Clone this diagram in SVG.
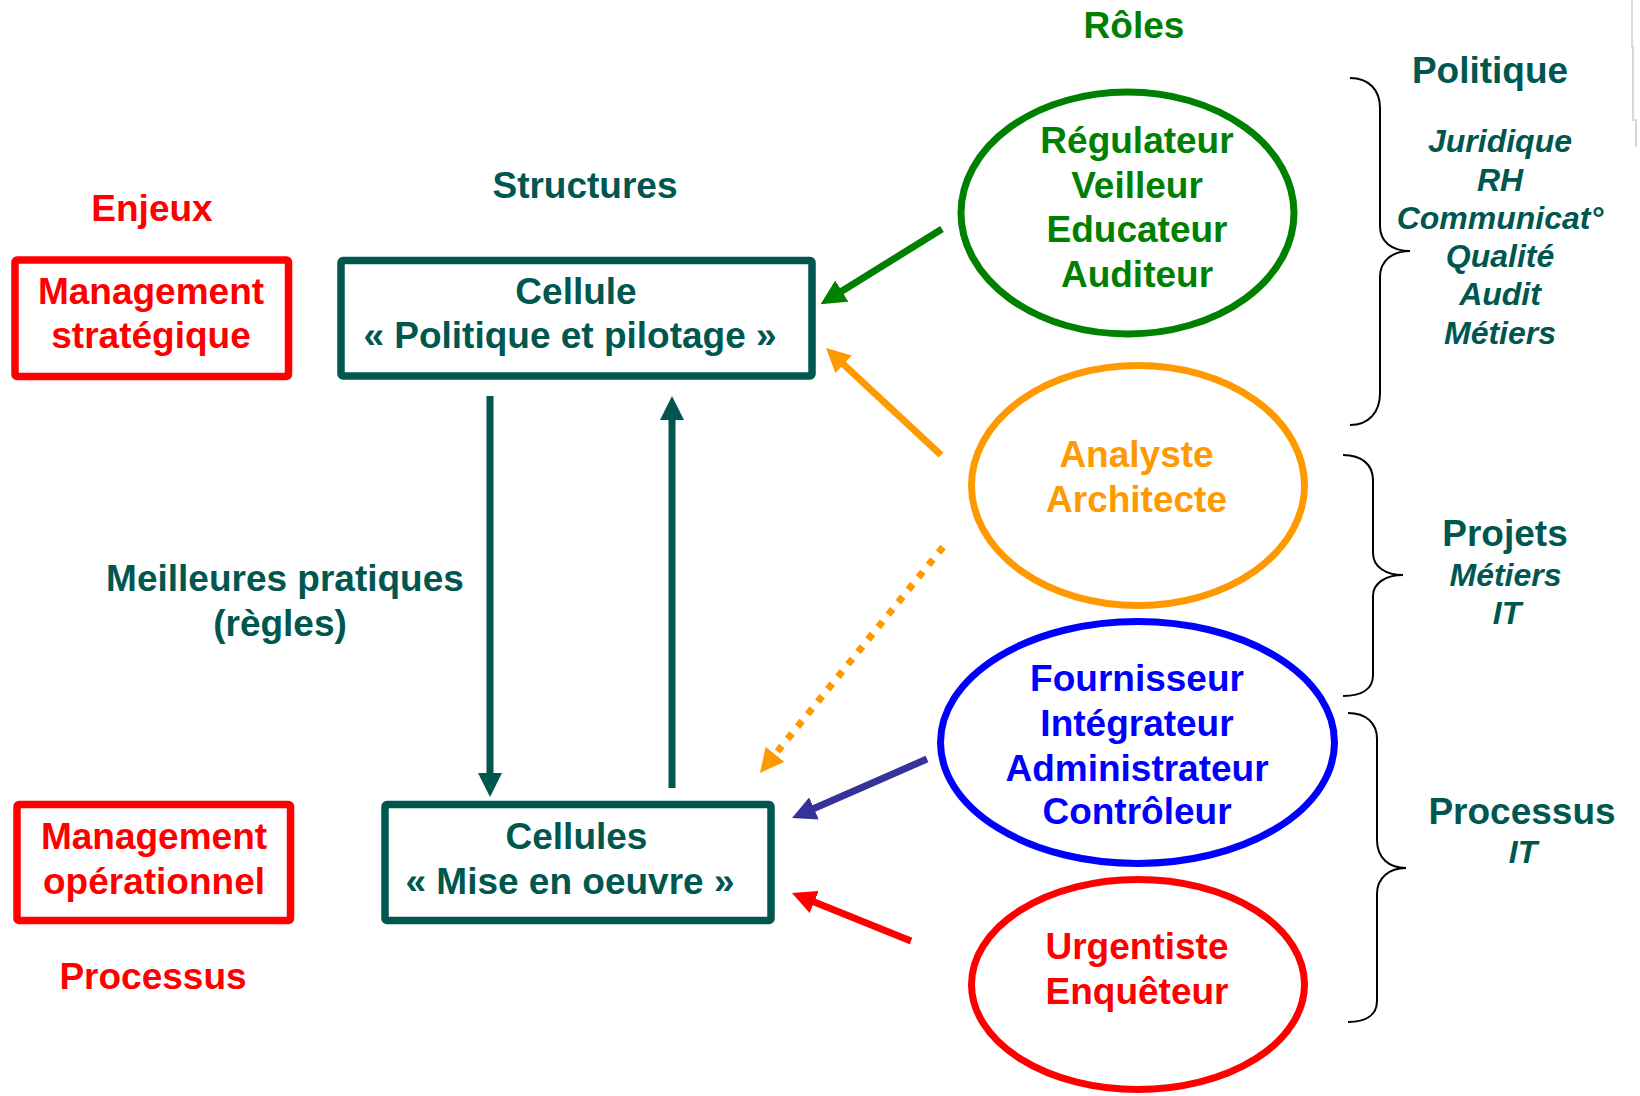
<svg xmlns="http://www.w3.org/2000/svg" width="1640" height="1096" viewBox="0 0 1640 1096">
<defs>
<style>
text{font-family:"Liberation Sans",Arial,Helvetica,sans-serif;font-weight:bold;text-anchor:middle}
.t{font-size:37px}
.i{font-size:32px;font-style:italic;fill:#00574F}
.teal{fill:#00574F}
.red{fill:#FF0000}
.grn{fill:#008000}
.org{fill:#FF9900}
.blu{fill:#0000FF}
.box{fill:#FFFFFF;stroke-width:7.5;stroke-linejoin:round}
.ell{fill:#FFFFFF;stroke-width:7}
.brace{fill:none;stroke:#000000;stroke-width:2}
.arr{fill:none;stroke-width:7}
</style>
<marker id="mTeal" markerUnits="userSpaceOnUse" viewBox="0 0 24 24" refX="12" refY="12" markerWidth="24" markerHeight="24" orient="auto"><path d="M0,0 L24,12 L0,24 Z" fill="#00574F"/></marker>
<marker id="mGrn" markerUnits="userSpaceOnUse" viewBox="0 0 24 24" refX="12" refY="12" markerWidth="25" markerHeight="25" orient="auto"><path d="M0,0 L24,12 L0,24 Z" fill="#008000"/></marker>
<marker id="mOrg" markerUnits="userSpaceOnUse" viewBox="0 0 24 24" refX="12" refY="12" markerWidth="24" markerHeight="24" orient="auto"><path d="M0,0 L24,12 L0,24 Z" fill="#FF9900"/></marker>
<marker id="mBlu" markerUnits="userSpaceOnUse" viewBox="0 0 24 24" refX="12" refY="12" markerWidth="24" markerHeight="24" orient="auto"><path d="M0,0 L24,12 L0,24 Z" fill="#333399"/></marker>
<marker id="mRed" markerUnits="userSpaceOnUse" viewBox="0 0 24 24" refX="12" refY="12" markerWidth="24" markerHeight="24" orient="auto"><path d="M0,0 L24,12 L0,24 Z" fill="#FF0000"/></marker>
</defs>
<rect x="0" y="0" width="1640" height="1096" fill="#FFFFFF"/>
<path d="M1632,0 L1632,47 L1633,47 L1633,120 L1636,120 L1636,147" fill="none" stroke="#D8D8D8" stroke-width="2"/>

<g id="headers">
<text class="t red" x="152" y="221">Enjeux</text>
<text class="t teal" x="585" y="198">Structures</text>
<text class="t grn" x="1134" y="38">Rôles</text>
</g>

<g id="mgmt-strategique">
<rect class="box" x="15" y="260" width="273.5" height="116.5" rx="2" stroke="#FF0000"/>
<text class="t red" x="151" y="304">Management</text>
<text class="t red" x="151" y="348">stratégique</text>
</g>

<g id="cellule-politique">
<rect class="box" x="341" y="260.5" width="471" height="115.5" rx="2" stroke="#00574F"/>
<text class="t teal" x="576" y="304">Cellule</text>
<text class="t teal" x="570" y="348">« Politique et pilotage »</text>
</g>

<g id="mgmt-operationnel">
<rect class="box" x="17" y="804.5" width="273.5" height="116" rx="2" stroke="#FF0000"/>
<text class="t red" x="154" y="849">Management</text>
<text class="t red" x="154" y="894">opérationnel</text>
<text class="t red" x="153" y="989">Processus</text>
</g>

<g id="cellules-mise-en-oeuvre">
<rect class="box" x="385" y="804.5" width="386" height="116" rx="2" stroke="#00574F"/>
<text class="t teal" x="576.5" y="849">Cellules</text>
<text class="t teal" x="570" y="894">« Mise en oeuvre »</text>
</g>

<g id="meilleures-pratiques">
<text class="t teal" x="285" y="591">Meilleures pratiques</text>
<text class="t teal" x="280" y="636">(règles)</text>
</g>

<g id="role-politique">
<ellipse class="ell" cx="1127.5" cy="213" rx="166.5" ry="121" stroke="#008000"/>
<text class="t grn" x="1137" y="153">Régulateur</text>
<text class="t grn" x="1137" y="197.5">Veilleur</text>
<text class="t grn" x="1137" y="242">Educateur</text>
<text class="t grn" x="1137" y="286.5">Auditeur</text>
</g>

<g id="role-projets">
<ellipse class="ell" cx="1138" cy="485.5" rx="166.5" ry="120" stroke="#FF9900"/>
<text class="t org" x="1136.5" y="467">Analyste</text>
<text class="t org" x="1136.5" y="511.5">Architecte</text>
</g>

<g id="role-fourniture">
<ellipse class="ell" cx="1137.5" cy="742.5" rx="197" ry="121" stroke="#0000FF"/>
<text class="t blu" x="1137" y="691">Fournisseur</text>
<text class="t blu" x="1137" y="736">Intégrateur</text>
<text class="t blu" x="1137" y="781">Administrateur</text>
<text class="t blu" x="1137" y="824">Contrôleur</text>
</g>

<g id="role-urgence">
<ellipse class="ell" cx="1138" cy="984.5" rx="166.5" ry="105" stroke="#FF0000"/>
<text class="t red" x="1137" y="959">Urgentiste</text>
<text class="t red" x="1137" y="1004">Enquêteur</text>
</g>

<g id="domaine-politique">
<path class="brace" d="M1350,78 C1369,78 1380,90 1380,108 L1380,226 C1380,242 1392,251 1410,251 C1392,251 1380,261 1380,277 L1380,393 C1380,412 1369,425 1350,425"/>
<text class="t teal" x="1490" y="83">Politique</text>
<text class="i" x="1500" y="152">Juridique</text>
<text class="i" x="1500" y="190.5">RH</text>
<text class="i" x="1500" y="229">Communicat°</text>
<text class="i" x="1500" y="267">Qualité</text>
<text class="i" x="1500" y="305">Audit</text>
<text class="i" x="1500" y="343.5">Métiers</text>
</g>

<g id="domaine-projets">
<path class="brace" d="M1343,455 C1362,455 1373,465 1373,480 L1373,553 C1373,567 1386,575 1403,575 C1386,575 1373,583 1373,596 L1373,675 C1373,689 1362,696 1343,696"/>
<text class="t teal" x="1505" y="546">Projets</text>
<text class="i" x="1505.5" y="585.5">Métiers</text>
<text class="i" x="1507" y="623.5">IT</text>
</g>

<g id="domaine-processus">
<path class="brace" d="M1348,713 C1366,713 1377,723 1377,739 L1377,840 C1377,858 1389,868 1406,868 C1389,868 1377,878 1377,894 L1377,1001 C1377,1015 1366,1022 1348,1022"/>
<text class="t teal" x="1522" y="824">Processus</text>
<text class="i" x="1523" y="863">IT</text>
</g>

<g id="connectors">
<line class="arr" x1="490" y1="396" x2="490" y2="785" stroke="#00574F" stroke-width="7.5" marker-end="url(#mTeal)"/>
<line class="arr" x1="672" y1="788" x2="672" y2="408" stroke="#00574F" stroke-width="8" marker-end="url(#mTeal)"/>
<line class="arr" x1="942" y1="229" x2="831.2" y2="297.7" stroke="#008000" marker-end="url(#mGrn)"/>
<line class="arr" x1="941" y1="455" x2="834.8" y2="356.2" stroke="#FF9900" marker-end="url(#mOrg)"/>
<line class="arr" x1="943" y1="547" x2="767.5" y2="763.7" stroke="#FF9900" stroke-dasharray="7 9" marker-end="url(#mOrg)"/>
<line class="arr" x1="927" y1="759" x2="803" y2="813.2" stroke="#333399" marker-end="url(#mBlu)"/>
<line class="arr" x1="911" y1="941" x2="803.1" y2="897.5" stroke="#FF0000" marker-end="url(#mRed)"/>
</g>
</svg>
